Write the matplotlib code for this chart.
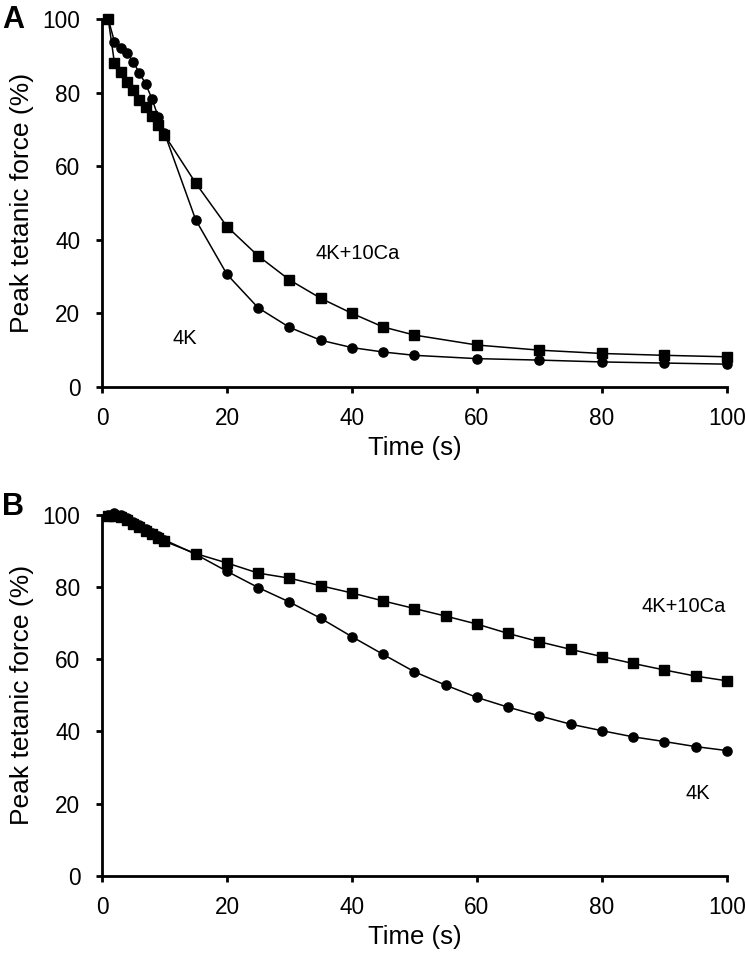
import matplotlib
matplotlib.use("Agg")
import matplotlib.pyplot as plt

plt.rcParams['font.family'] = ['Liberation Sans', 'DejaVu Sans']

# Panel A data
time_a = [1, 2, 3, 4, 5, 6, 7, 8, 9, 10, 15, 20, 25, 30, 35, 40, 45, 50, 60, 70, 80, 90, 100]
k4_a = [100, 93.8, 92.1, 90.8, 88.3, 85.3, 82.3, 78.3, 73.4, 69.0,
        45.4, 30.6, 21.5, 16.2, 12.7, 10.7, 9.5, 8.6, 7.7, 7.3, 6.8, 6.5, 6.2]
k4ca_a = [100, 88.0, 85.6, 82.9, 80.7, 78.0, 76.1, 73.6, 71.2, 68.5,
          55.4, 43.6, 35.6, 29.1, 24.1, 20.0, 16.3, 14.1, 11.4, 10.0, 9.1, 8.6, 8.2]

# Panel B data
time_b = [1, 2, 3, 4, 5, 6, 7, 8, 9, 10, 15, 20, 25, 30, 35, 40, 45, 50,
          55, 60, 65, 70, 75, 80, 85, 90, 95, 100]
k4_b = [100, 100.3, 100.0, 99.0, 98.0, 97.0, 96.0, 95.0, 94.0, 93.0,
        89.0, 84.3, 79.8, 75.8, 71.3, 66.2, 61.3, 56.5,
        52.8, 49.4, 46.7, 44.3, 42.0, 40.2, 38.5, 37.2, 35.8, 34.7]
k4ca_b = [99.5, 99.6, 99.2, 98.4, 97.5, 96.5, 95.5, 94.5, 93.5, 92.6,
          89.2, 86.6, 83.8, 82.4, 80.3, 78.3, 76.1, 74.0,
          71.9, 69.7, 67.1, 64.8, 62.7, 60.7, 58.8, 57.0, 55.3, 54.0]

xticks = [0, 20, 40, 60, 80, 100]
yticks = [0, 20, 40, 60, 80, 100]

fig = plt.figure(figsize=(7.46, 9.55), dpi=100)
axA = fig.add_axes([0.1367, 0.5948, 0.8378, 0.3853])
axB = fig.add_axes([0.1367, 0.0827, 0.8378, 0.3785])


def style(ax):
    ax.set_xlim(0, 100)
    ax.set_ylim(0, 100)
    ax.set_xticks(xticks)
    ax.set_yticks(yticks)
    for s in ['top', 'right']:
        ax.spines[s].set_visible(False)
    for s in ['left', 'bottom']:
        ax.spines[s].set_linewidth(2)
    ax.tick_params(direction='out', length=4.5, width=2, labelsize=16.3)
    ax.tick_params(axis='y', pad=11)
    ax.tick_params(axis='x', pad=10)
    ax.set_xlabel('Time (s)', fontsize=18.5, labelpad=4)
    ax.set_ylabel('Peak tetanic force (%)', fontsize=19, labelpad=6)


for ax, t, a, b in [(axA, time_a, k4_a, k4ca_a), (axB, time_b, k4_b, k4ca_b)]:
    ax.plot(t, b, color='black', lw=1.1, marker='s', ms=7.2, clip_on=False, zorder=3)
    ax.plot(t, a, color='black', lw=1.1, marker='o', ms=6.6, clip_on=False, zorder=3)
    style(ax)

axA.text(40.9, 36.2, '4K+10Ca', fontsize=14.5, ha='center', va='center')
axA.text(13.2, 13.3, '4K', fontsize=14.5, ha='center', va='center')
axB.text(93.0, 74.7, '4K+10Ca', fontsize=14.5, ha='center', va='center')
axB.text(95.3, 22.8, '4K', fontsize=14.5, ha='center', va='center')

fig.text(0.003, 0.995, 'A', fontsize=22, fontweight='bold', ha='left', va='top')
fig.text(0.003, 0.485, 'B', fontsize=22, fontweight='bold', ha='left', va='top')

fig.savefig('out.png', dpi=100)
